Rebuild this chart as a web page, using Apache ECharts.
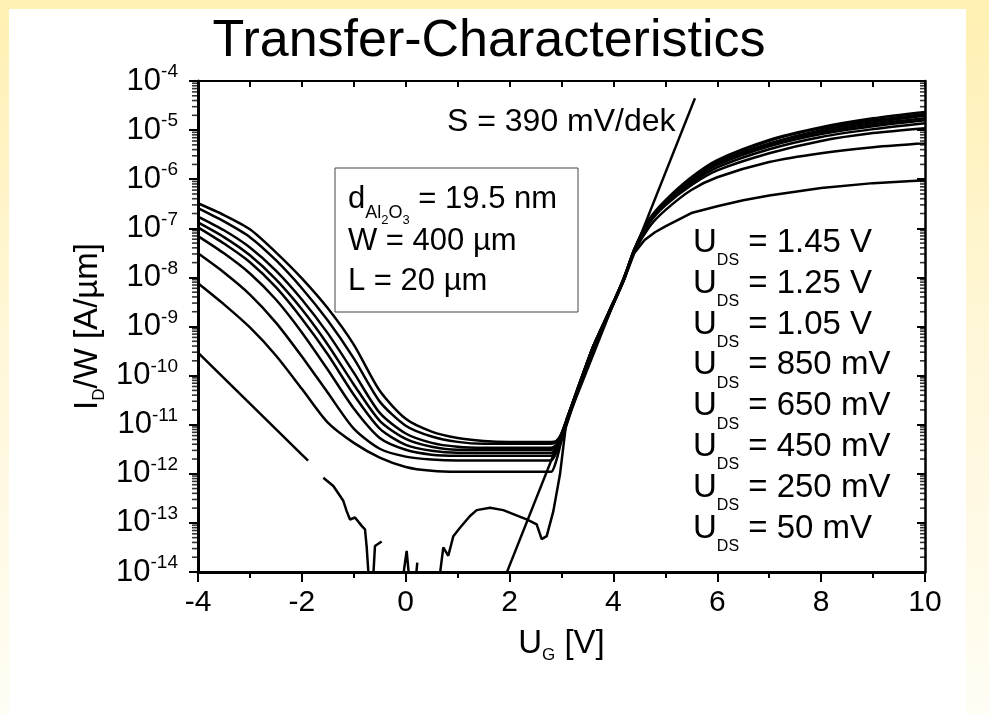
<!DOCTYPE html>
<html><head><meta charset="utf-8">
<script src="https://cdn.jsdelivr.net/npm/echarts@6/dist/echarts.min.js"></script>
<style>
html,body{margin:0;padding:0;width:989px;height:714px;overflow:hidden;
background:linear-gradient(to bottom,#FFF0B2 0%,#FFF6D6 45%,#FFFDF4 100%);}
#panel{position:absolute;left:9px;top:9px;width:957px;height:705px;background:#fff;}
#chart{position:absolute;left:0;top:0;width:989px;height:714px;}
</style></head><body><div id="panel"></div><div id="chart"></div>
<script>
// ---------------- DATA (log10 of I_D/W in A/µm) ----------------
const ugGrid = [-4,-3.5,-3,-2.5,-2,-1.5,-1,-0.5,0,0.5,1,1.5,2,2.5,2.8,2.9,3.0,3.3,3.6,3.9,4.2,4.4,4.7,5,5.5,6,7,8,9,10];

const logI_145V = [-6.49,-6.73,-7.02,-7.49,-8.02,-8.63,-9.37,-10.31,-10.88,-11.14,-11.27,-11.33,-11.35,-11.35,
  -11.35,-11.33,-11.18,-10.29,-9.43,-8.73,-8.02,-7.43,-6.80,-6.43,-5.96,-5.61,-5.20,-4.94,-4.76,-4.63];
const logI_125V = [-6.59,-6.86,-7.18,-7.65,-8.22,-8.88,-9.65,-10.53,-11.02,-11.24,-11.35,-11.39,-11.39,-11.39,
  -11.39,-11.35,-11.18,-10.29,-9.43,-8.73,-8.02,-7.43,-6.82,-6.45,-5.98,-5.63,-5.22,-4.96,-4.80,-4.67];
const logI_105V = [-6.76,-7.04,-7.39,-7.86,-8.45,-9.14,-9.94,-10.76,-11.18,-11.37,-11.45,-11.47,-11.47,-11.47,
  -11.47,-11.41,-11.20,-10.31,-9.43,-8.73,-8.02,-7.43,-6.82,-6.47,-6.00,-5.65,-5.27,-5.00,-4.84,-4.71];
const logI_850mV = [-6.88,-7.18,-7.55,-8.04,-8.65,-9.37,-10.18,-10.92,-11.29,-11.45,-11.51,-11.51,-11.51,-11.51,
  -11.51,-11.43,-11.20,-10.31,-9.45,-8.76,-8.04,-7.45,-6.84,-6.47,-6.02,-5.67,-5.29,-5.04,-4.88,-4.76];
const logI_650mV = [-6.98,-7.31,-7.69,-8.20,-8.84,-9.57,-10.39,-11.08,-11.41,-11.53,-11.57,-11.57,-11.57,-11.57,
  -11.57,-11.47,-11.22,-10.33,-9.45,-8.76,-8.04,-7.45,-6.84,-6.49,-6.04,-5.71,-5.33,-5.08,-4.92,-4.80];
const logI_450mV = [-7.16,-7.51,-7.92,-8.45,-9.12,-9.88,-10.67,-11.27,-11.51,-11.61,-11.63,-11.63,-11.63,-11.63,
  -11.63,-11.51,-11.24,-10.33,-9.45,-8.76,-8.04,-7.45,-6.86,-6.51,-6.08,-5.76,-5.39,-5.14,-4.98,-4.86];
const logI_curve7 = [-7.51,-7.90,-8.35,-8.92,-9.61,-10.35,-11.08,-11.49,-11.65,-11.71,-11.73,-11.73,-11.73,-11.73,
  -11.73,-11.57,-11.27,-10.35,-9.47,-8.78,-8.06,-7.47,-6.88,-6.53,-6.12,-5.82,-5.47,-5.22,-5.06,-4.96];
const logI_250mV = [-8.12,-8.55,-9.02,-9.59,-10.27,-10.96,-11.37,-11.67,-11.86,-11.94,-11.96,-11.96,-11.96,-11.96,
  -11.96,-11.73,-11.33,-10.37,-9.49,-8.78,-8.06,-7.49,-6.96,-6.63,-6.22,-5.96,-5.65,-5.47,-5.35,-5.27];

// 50 mV curve (noisy near the noise floor, null = gap)
const ug50mV = [-4,-3,-2,-1.88,-1.75,-1.587,-1.394,-1.202,-1.137,-1.073,-0.977,-0.848,-0.784,-0.751,-0.701,-0.636,
  -0.592,-0.559,-0.463,-0.3,-0.078,0.018,0.082,0.13,0.179,0.223,0.4,0.628,0.724,0.820,0.917,1.045,1.238,1.367,
  1.623,1.879,2.072,2.329,2.522,2.618,2.715,2.843,2.971,3.1,3.3,3.6,3.9,4.2,4.4,4.6,4.8,5.0,5.5,6.0,6.5,7.0,8.0,9.0,10];
const logI_50mV = [-9.53,-10.57,-11.61,-11.73,null,-12.08,-12.25,-12.55,-12.76,-12.93,-12.89,-13.06,-13.13,-13.50,-14.3,-14.3,
  -13.47,-13.43,-13.38,null,-14.3,-13.57,-14.3,null,-14.3,-13.81,null,-14.3,-13.50,-13.67,-13.27,-13.10,-12.86,-12.74,
  -12.69,-12.74,-12.82,-12.93,-13.03,-13.33,-13.27,-12.76,-12.01,-10.88,-10.31,-9.43,-8.76,-8.06,-7.51,-7.24,-7.08,-6.96,-6.69,-6.55,-6.43,-6.33,-6.18,-6.08,-6.02];

// subthreshold slope fit line  S = 390 mV/dek
const sLineUg = [1.95, 5.57];
const sLineLogI = [-14.0, -4.35];

const legendLabels = ['1.45 V','1.25 V','1.05 V','850 mV','650 mV','450 mV','250 mV','50 mV'];
const xTicks = {min:-4, max:10, step:2};
const yDecades = {min:-14, max:-4};

// ---------------- CHART ----------------
const FONT = "'Liberation Sans', Arial, Helvetica, sans-serif";
const chart = echarts.init(document.getElementById('chart'), null, {renderer:'canvas'});

const curves = [logI_145V, logI_125V, logI_105V, logI_850mV, logI_650mV, logI_450mV, logI_curve7, logI_250mV];
const series = curves.map((arr, i) => ({
  type:'line', name:'c'+i, silent:true, showSymbol:false, smooth:0.25,
  data: ugGrid.map((u, j) => [u, arr[j]]),
  lineStyle:{color:'#000', width:2.5}, clip:true
}));
series.push({
  type:'line', name:'50mV', silent:true, showSymbol:false, smooth:false,
  data: ug50mV.map((u, j) => [u, logI_50mV[j] === null ? '-' : logI_50mV[j]]),
  lineStyle:{color:'#000', width:2.5}, clip:true
});
series.push({
  type:'line', name:'S', silent:true, showSymbol:false,
  data: sLineUg.map((u, j) => [u, sLineLogI[j]]),
  lineStyle:{color:'#000', width:2.4}, clip:true
});

// minor log ticks (2..9 in each decade) drawn on both vertical axes
const minorVals = [];
for (let n = yDecades.min; n < yDecades.max; n++) for (let k = 2; k <= 9; k++) minorVals.push(n + Math.log10(k));
series.push({
  type:'scatter', name:'minorL', silent:true, clip:false, z:5,
  symbol:'rect', symbolSize:[6, 1.6], symbolOffset:[-3, 0],
  itemStyle:{color:'#000'},
  data: minorVals.map(v => [xTicks.min, v])
});
series.push({
  type:'scatter', name:'minorR', silent:true, clip:false, z:5,
  symbol:'rect', symbolSize:[5, 1.6], symbolOffset:[-2.5, 0],
  itemStyle:{color:'#000'},
  data: minorVals.map(v => [xTicks.max, v])
});

const legendGraphics = legendLabels.map((lab, i) => ({
  type:'text', x:693, y:243 + i*40.8, silent:true,
  style:{
    text:'{u|U}{d|DS}{t| = ' + lab + '}', align:'left', verticalAlign:'middle',
    rich:{
      u:{fontSize:33, fontFamily:FONT, fill:'#000', lineHeight:56},
      d:{fontSize:16, fontFamily:FONT, fill:'#000', padding:[36,0,0,0]},
      t:{fontSize:33, fontFamily:FONT, fill:'#000', lineHeight:56}
    }
  }
}));

const boxRich = {
  b:{fontSize:31, fontFamily:FONT, fill:'#000', lineHeight:60},
  s1:{fontSize:18, fontFamily:FONT, fill:'#000', padding:[28,0,0,0]},
  s2:{fontSize:13, fontFamily:FONT, fill:'#000', padding:[42,0,0,0]}
};

chart.setOption({
  animation:false,
  title:{text:'Transfer-Characteristics', left:489, top:16, textAlign:'center', padding:0,
    textStyle:{fontSize:52, fontWeight:'normal', color:'#000', fontFamily:FONT}},
  grid:{left:198, right:64, top:81, bottom:142, containLabel:false, outerBoundsMode:'none'},
  xAxis:[{
    type:'value', position:'bottom', min:xTicks.min, max:xTicks.max, interval:xTicks.step,
    axisLine:{show:true, onZero:false, lineStyle:{color:'#000', width:3}},
    axisTick:{show:true, inside:false, length:10, lineStyle:{color:'#000', width:2}},
    minorTick:{show:true, splitNumber:2, length:6, lineStyle:{color:'#000', width:2}},
    splitLine:{show:false},
    axisLabel:{show:true, margin:16, fontSize:30, color:'#000', fontFamily:FONT, showMinLabel:true, showMaxLabel:true, hideOverlap:false},
    name:'{b|U}{s|G}{b| [V]}', nameLocation:'middle', nameGap:52, nameMoveOverlap:false,
    nameTextStyle:{rich:{
      b:{fontSize:33, fontFamily:FONT, color:'#000', lineHeight:40},
      s:{fontSize:17, fontFamily:FONT, color:'#000', padding:[22,0,0,0]}
    }}
  },{
    type:'value', position:'top', min:xTicks.min, max:xTicks.max, interval:1,
    axisLine:{show:true, onZero:false, lineStyle:{color:'#000', width:2}},
    axisTick:{show:true, inside:true, length:6, lineStyle:{color:'#000', width:2}},
    splitLine:{show:false}, axisLabel:{show:false}
  }],
  yAxis:[{
    type:'value', position:'left', min:yDecades.min, max:yDecades.max, interval:1,
    axisLine:{show:true, onZero:false, lineStyle:{color:'#000', width:3}},
    axisTick:{show:true, inside:false, length:9, lineStyle:{color:'#000', width:2}},
    splitLine:{show:false},
    axisLabel:{show:true, margin:20, color:'#000', showMinLabel:true, showMaxLabel:true, hideOverlap:false,
      formatter: v => '{b|10}{s|' + v + '}',
      rich:{
        b:{fontSize:31, fontFamily:FONT, color:'#000'},
        s:{fontSize:19, fontFamily:FONT, color:'#000', padding:[0,0,18,0]}
      }},
    name:'{b|I}{s|D}{b|/W [A/µm]}', nameLocation:'middle', nameGap:90, nameRotate:90, nameMoveOverlap:false,
    nameTextStyle:{rich:{
      b:{fontSize:33, fontFamily:FONT, color:'#000', lineHeight:40},
      s:{fontSize:17, fontFamily:FONT, color:'#000', padding:[22,0,0,0]}
    }}
  },{
    type:'value', position:'right', min:yDecades.min, max:yDecades.max, interval:1,
    axisLine:{show:true, onZero:false, lineStyle:{color:'#000', width:2.5}},
    axisTick:{show:true, inside:true, length:8, lineStyle:{color:'#000', width:2}},
    splitLine:{show:false}, axisLabel:{show:false}
  }],
  graphic:[
    {type:'rect', shape:{x:335, y:168, width:243, height:144}, silent:true,
      style:{fill:'rgba(0,0,0,0)', stroke:'#444', lineWidth:1}},
    {type:'text', x:348, y:199, silent:true, style:{text:'{b|d}{s1|Al}{s2|2}{s1|O}{s2|3}{b| = 19.5 nm}', align:'left', verticalAlign:'middle', rich:boxRich}},
    {type:'text', x:348, y:241, silent:true, style:{text:'{b|W = 400 µm}', align:'left', verticalAlign:'middle', rich:boxRich}},
    {type:'text', x:348, y:281, silent:true, style:{text:'{b|L = 20 µm}', align:'left', verticalAlign:'middle', rich:boxRich}},
    {type:'text', x:447, y:122, silent:true, style:{text:'S = 390 mV/dek', align:'left', verticalAlign:'middle',
      fontSize:32, fontFamily:FONT, fill:'#000'}}
  ].concat(legendGraphics),
  series: series
});
</script></body></html>
